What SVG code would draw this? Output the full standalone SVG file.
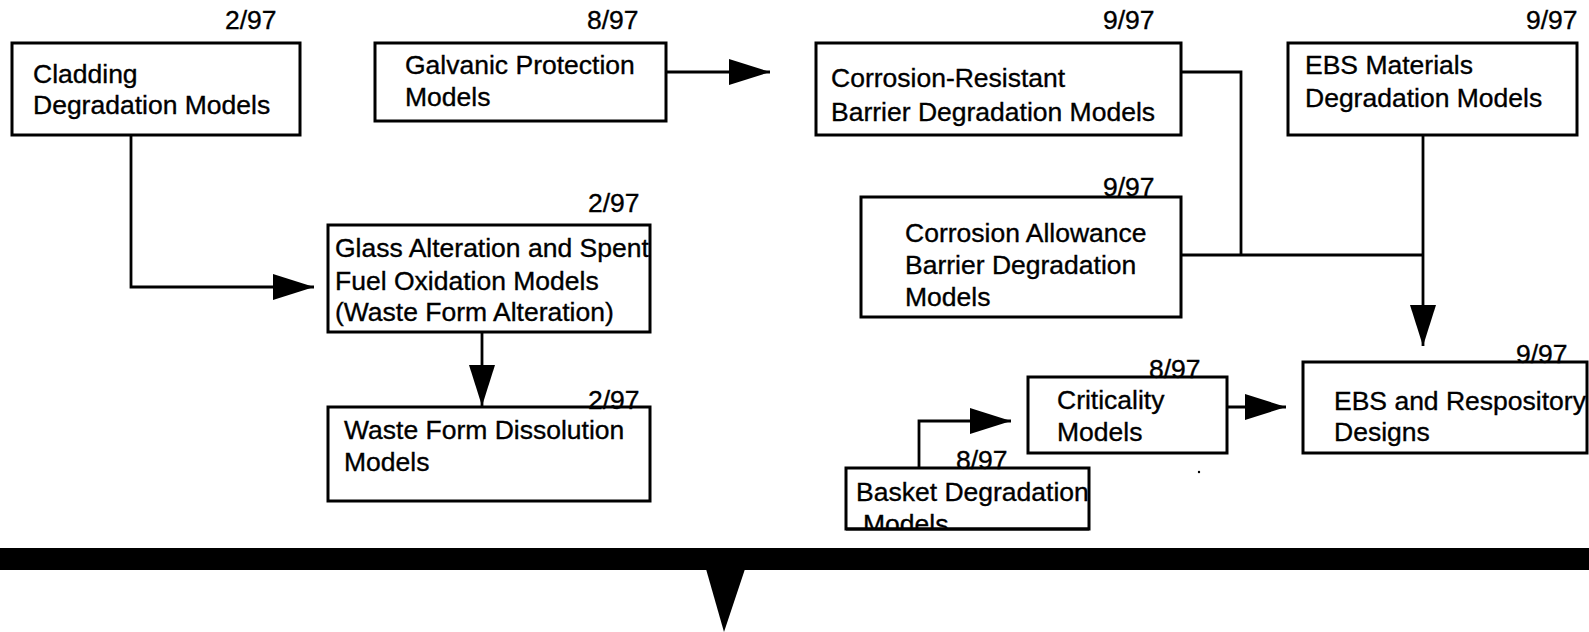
<svg xmlns="http://www.w3.org/2000/svg" width="1589" height="632" viewBox="0 0 1589 632">
  <style>
    .box { fill: #ffffff; stroke: #000000; stroke-width: 3; }
    .lbl { font-family: "Liberation Sans", Arial, Helvetica, sans-serif; font-size: 26.5px; fill: #000000; stroke: #000000; stroke-width: 0.35; }
    .date { font-family: "Liberation Sans", Arial, Helvetica, sans-serif; font-size: 26.5px; fill: #000000; stroke: #000000; stroke-width: 0.35; }
    .wire { fill: none; stroke: #000000; stroke-width: 2.8; }
  </style>
  <defs>
    <marker id="head" markerUnits="userSpaceOnUse" markerWidth="44" markerHeight="28" refX="41" refY="13" orient="auto">
      <path d="M0,0 L41,13 L0,26 Z" fill="#000000"/>
    </marker>
    <clipPath id="basketClip">
      <rect x="846" y="468" width="243" height="62"/>
    </clipPath>
  </defs>

  <rect width="1589" height="632" fill="#ffffff"/>

  <!-- connectors -->
  <g id="connectors">
    <polyline class="wire" points="131,135 131,287 314,287" marker-end="url(#head)"/>
    <line class="wire" x1="666" y1="72" x2="770" y2="72" marker-end="url(#head)"/>
    <line class="wire" x1="482" y1="332" x2="482" y2="406" marker-end="url(#head)"/>
    <polyline class="wire" points="1181,72 1241,72 1241,255"/>
    <line class="wire" x1="1181" y1="255" x2="1423" y2="255"/>
    <line class="wire" x1="1423" y1="135" x2="1423" y2="346" marker-end="url(#head)"/>
    <line class="wire" x1="1227" y1="407" x2="1286" y2="407" marker-end="url(#head)"/>
    <polyline class="wire" points="919,468 919,421 1011,421" marker-end="url(#head)"/>
  </g>

  <g id="cladding">
    <rect class="box" x="12" y="43" width="288" height="92"/>
    <text class="date" x="225" y="29">2/97</text>
    <text class="lbl" x="33" y="83">Cladding</text>
    <text class="lbl" x="33" y="114">Degradation Models</text>
  </g>

  <g id="galvanic">
    <rect class="box" x="375" y="43" width="291" height="78"/>
    <text class="date" x="587" y="29">8/97</text>
    <text class="lbl" x="405" y="74">Galvanic Protection</text>
    <text class="lbl" x="405" y="106">Models</text>
  </g>

  <g id="corrosion-resistant">
    <rect class="box" x="816" y="43" width="365" height="92"/>
    <text class="date" x="1103" y="29">9/97</text>
    <text class="lbl" x="831" y="87">Corrosion-Resistant</text>
    <text class="lbl" x="831" y="121">Barrier Degradation Models</text>
  </g>

  <g id="ebs-materials">
    <rect class="box" x="1288" y="43" width="289" height="92"/>
    <text class="date" x="1526" y="29">9/97</text>
    <text class="lbl" x="1305" y="74">EBS Materials</text>
    <text class="lbl" x="1305" y="107">Degradation Models</text>
  </g>

  <g id="glass-alteration">
    <rect class="box" x="328" y="225" width="322" height="107"/>
    <text class="date" x="588" y="212">2/97</text>
    <text class="lbl" x="335" y="257">Glass Alteration and Spent</text>
    <text class="lbl" x="335" y="290">Fuel Oxidation Models</text>
    <text class="lbl" x="335" y="321">(Waste Form Alteration)</text>
  </g>

  <g id="corrosion-allowance">
    <rect class="box" x="861" y="197" width="320" height="120"/>
    <text class="date" x="1103" y="196">9/97</text>
    <text class="lbl" x="905" y="242">Corrosion Allowance</text>
    <text class="lbl" x="905" y="274">Barrier Degradation</text>
    <text class="lbl" x="905" y="306">Models</text>
  </g>

  <g id="waste-form">
    <rect class="box" x="328" y="407" width="322" height="94"/>
    <text class="date" x="588" y="409">2/97</text>
    <text class="lbl" x="344" y="439">Waste Form Dissolution</text>
    <text class="lbl" x="344" y="471">Models</text>
  </g>

  <g id="criticality">
    <rect class="box" x="1028" y="377" width="199" height="76"/>
    <text class="date" x="1149" y="378">8/97</text>
    <text class="lbl" x="1057" y="409">Criticality</text>
    <text class="lbl" x="1057" y="441">Models</text>
  </g>

  <g id="ebs-repository">
    <rect class="box" x="1303" y="362" width="284" height="91"/>
    <text class="date" x="1516" y="363">9/97</text>
    <text class="lbl" x="1334" y="410">EBS and Respository</text>
    <text class="lbl" x="1334" y="441">Designs</text>
  </g>

  <g id="basket">
    <rect class="box" x="846" y="468" width="243" height="61"/>
    <text class="date" x="956" y="469">8/97</text>
    <g clip-path="url(#basketClip)">
      <text class="lbl" x="856" y="501">Basket Degradation</text>
      <text class="lbl" x="863" y="533">Models</text>
    </g>
    <line class="wire" x1="846" y1="529" x2="1089" y2="529"/>
  </g>

  <circle cx="1199" cy="472" r="1.2" fill="#000000"/>

  <!-- heavy bar with downward pointer -->
  <g id="bottom-bar">
    <rect x="0" y="548" width="1589" height="22" fill="#000000"/>
    <polygon points="706,569 745,569 724,632" fill="#000000"/>
  </g>
</svg>
